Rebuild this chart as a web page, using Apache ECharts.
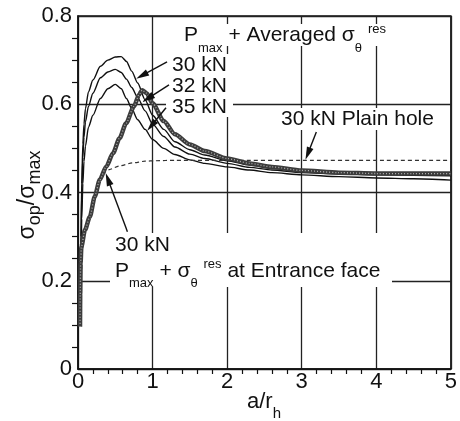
<!DOCTYPE html>
<html><head><meta charset="utf-8">
<script src="https://cdn.jsdelivr.net/npm/echarts@6/dist/echarts.min.js"></script>
<style>html,body{margin:0;padding:0;background:#fff}#c{width:460px;height:421px}</style>
</head><body><div id="c"></div>
<script>
// ---- data ----
const xSolid = [0.03, 0.04, 0.05, 0.065, 0.08, 0.1, 0.14, 0.2, 0.3, 0.4, 0.5, 0.58, 0.65, 0.72, 0.8, 0.9, 1.0, 1.15, 1.3, 1.5, 1.7, 2.0, 2.3, 2.6, 3.0, 3.5, 4.0, 4.5, 5.0];
const avg30 = [0.10, 0.30, 0.42, 0.51, 0.555, 0.59, 0.628, 0.655, 0.686, 0.700, 0.707, 0.708, 0.697, 0.675, 0.648, 0.61, 0.575, 0.543, 0.515, 0.497, 0.485, 0.472, 0.462, 0.455, 0.449, 0.446, 0.445, 0.445, 0.445];
const avg32 = [0.10, 0.28, 0.40, 0.48, 0.525, 0.56, 0.595, 0.625, 0.66, 0.673, 0.679, 0.672, 0.657, 0.638, 0.615, 0.585, 0.555, 0.527, 0.503, 0.487, 0.477, 0.466, 0.457, 0.451, 0.445, 0.442, 0.44, 0.439, 0.438];
const avg35 = [0.10, 0.24, 0.34, 0.42, 0.47, 0.505, 0.548, 0.575, 0.613, 0.635, 0.645, 0.635, 0.613, 0.59, 0.565, 0.543, 0.52, 0.50, 0.486, 0.474, 0.466, 0.458, 0.451, 0.445, 0.44, 0.436, 0.433, 0.431, 0.428];

const xEntrance = [0.027, 0.03, 0.035, 0.045, 0.093, 0.159, 0.225, 0.292, 0.38, 0.469, 0.557, 0.645, 0.75, 0.82, 0.86, 0.92, 1.0, 1.15, 1.3, 1.5, 1.7, 2.0, 2.3, 2.6, 3.0, 3.5, 4.0, 4.5, 5.0];
const entrance30 = [0.096, 0.17, 0.24, 0.277, 0.315, 0.345, 0.391, 0.429, 0.459, 0.489, 0.523, 0.557, 0.595, 0.622, 0.632, 0.625, 0.602, 0.562, 0.532, 0.509, 0.494, 0.477, 0.466, 0.458, 0.450, 0.445, 0.443, 0.443, 0.443];

const xPlain = [0.03, 0.04, 0.06, 0.093, 0.16, 0.225, 0.29, 0.36, 0.42, 0.55, 0.73, 0.9, 1.04, 1.3, 2.0, 3.0, 4.0, 5.0];
const plain30 = [0.10, 0.20, 0.27, 0.315, 0.345, 0.39, 0.425, 0.446, 0.452, 0.46, 0.467, 0.471, 0.472, 0.473, 0.473, 0.473, 0.473, 0.473];

// arrows: [fromX, fromY, toX, toY] in data units
const arrows = [
  [1.194, 0.696, 0.78, 0.658],
  [1.22, 0.644, 0.862, 0.605],
  [1.18, 0.592, 0.928, 0.540],
  [3.196, 0.537, 3.05, 0.474],
  [0.663, 0.311, 0.371, 0.444]
];

const xTicks = [0, 1, 2, 3, 4, 5];
const yTicks = [0, 0.2, 0.4, 0.6, 0.8];

const zip = (xs, ys) => xs.map((x, i) => [x, ys[i]]);
const FONT = '"Liberation Sans", Arial, Helvetica, sans-serif';

const chart = echarts.init(document.getElementById('c'), null, {renderer: 'canvas'});

const richAnn = {
  sub: {fontSize: 13, fontFamily: FONT, fill: '#111', color: '#111', verticalAlign: 'bottom'},
  sup: {fontSize: 13, fontFamily: FONT, fill: '#111', color: '#111', verticalAlign: 'top', padding: [6, 0, 0, 0]}
};

function txt(x, y, text, extra) {
  return Object.assign({
    type: 'text', x: x, y: y, z: 5, silent: true,
    style: {
      text: text, fill: '#111', fontSize: 21, fontFamily: FONT,
      align: 'left', verticalAlign: 'middle', lineHeight: 38, rich: richAnn
    }
  }, extra || {});
}
function mask(x, y, w, h) {
  return {type: 'rect', z: 1, silent: true, shape: {x: x, y: y, width: w, height: h}, style: {fill: '#fff'}};
}

const lineBase = {type: 'line', showSymbol: false, smooth: 0.25, smoothMonotone: 'x', silent: true, z: 3};

chart.setOption({
  animation: false,
  backgroundColor: '#fff',
  grid: {left: 78, right: 5, top: 16, bottom: 52, show: true, borderColor: '#111', borderWidth: 1.5, backgroundColor: 'transparent'},
  xAxis: {
    type: 'value', min: xTicks[0], max: xTicks[xTicks.length - 1], interval: 1,
    axisLine: {show: true, lineStyle: {color: '#111', width: 1.5}},
    axisTick: {show: false},
    minorTick: {show: true, splitNumber: 5, length: 5, lineStyle: {color: '#111', width: 1.2}},
    axisLabel: {color: '#111', fontSize: 22, fontFamily: FONT, margin: 2},
    splitLine: {show: true, lineStyle: {color: '#222', width: 1.3}}
  },
  yAxis: {
    type: 'value', min: yTicks[0], max: yTicks[yTicks.length - 1], interval: 0.2,
    axisLine: {show: true, lineStyle: {color: '#111', width: 1.5}},
    axisTick: {show: false},
    minorTick: {show: true, splitNumber: 4, length: 6, lineStyle: {color: '#111', width: 1.2}},
    axisLabel: {color: '#111', fontSize: 22, fontFamily: FONT, margin: 6,
      formatter: v => (v === 0 ? '0' : v.toFixed(1))},
    splitLine: {show: true, lineStyle: {color: '#222', width: 1.3}}
  },
  series: [
    Object.assign({}, lineBase, {name: 'avg30', data: zip(xSolid, avg30), lineStyle: {color: '#111', width: 1.4}}),
    Object.assign({}, lineBase, {name: 'avg32', data: zip(xSolid, avg32), lineStyle: {color: '#111', width: 1.4}}),
    Object.assign({}, lineBase, {name: 'avg35', data: zip(xSolid, avg35), lineStyle: {color: '#111', width: 1.4}}),
    Object.assign({}, lineBase, {name: 'plain30', data: zip(xPlain, plain30), lineStyle: {color: '#333', width: 1.2, type: [4, 3]}}),
    Object.assign({}, lineBase, {name: 'entrance30', data: zip(xEntrance, entrance30), lineStyle: {color: '#3c3c3c', width: 4.5}}),
    Object.assign({}, lineBase, {name: 'entrance30tex', data: zip(xEntrance, entrance30), z: 4, lineStyle: {color: '#b0b0b0', width: 1.3, type: [1, 2]}}),
    {
      type: 'custom', name: 'arrows', silent: true, z: 6, clip: false,
      data: arrows,
      renderItem: function (params, api) {
        const p1 = api.coord([api.value(0), api.value(1)]);
        const p2 = api.coord([api.value(2), api.value(3)]);
        const dx = p2[0] - p1[0], dy = p2[1] - p1[1];
        const L = Math.hypot(dx, dy) || 1;
        const ux = dx / L, uy = dy / L;
        const hl = 13, hw = 3.5;
        const bx = p2[0] - ux * hl, by = p2[1] - uy * hl;
        return {type: 'group', children: [
          {type: 'line', shape: {x1: p1[0], y1: p1[1], x2: bx + ux * 2, y2: by + uy * 2}, style: {stroke: '#111', lineWidth: 1.4}},
          {type: 'polygon', shape: {points: [[p2[0], p2[1]], [bx - uy * hw, by + ux * hw], [bx + uy * hw, by - ux * hw]]}, style: {fill: '#111'}}
        ]};
      }
    }
  ],
  graphic: {elements: [
    mask(180, 24, 215, 22),
    mask(166, 54, 67, 63),
    mask(275, 108, 170, 22),
    mask(110, 233, 282, 54),
    txt(184, 35.5, 'P{sub|max} + Averaged σ{sub|θ} {sup|res}'),
    txt(172, 65.5, '30 kN'),
    txt(172, 86.5, '32 kN'),
    txt(172, 107.5, '35 kN'),
    txt(281, 119, '30 kN Plain hole'),
    txt(115, 245.5, '30 kN'),
    txt(115, 271, 'P{sub|max} + σ{sub|θ} {sup|res} at Entrance face'),
    {
      type: 'text', x: 247, y: 402, z: 5, silent: true,
      style: {text: 'a/r{s|h}', fill: '#111', fontSize: 22, fontFamily: FONT, align: 'left', verticalAlign: 'middle', lineHeight: 38,
        rich: {s: {fontSize: 15, fontFamily: FONT, fill: '#111', verticalAlign: 'bottom'}}}
    },
    {
      type: 'text', x: 28, y: 195, rotation: Math.PI / 2, z: 5, silent: true,
      style: {text: 'σ{s|op}/σ{s|max}', fill: '#111', fontSize: 23, fontFamily: FONT, align: 'center', verticalAlign: 'middle', lineHeight: 32,
        rich: {s: {fontSize: 18, fontFamily: FONT, fill: '#111', verticalAlign: 'bottom'}}}
    }
  ]}
});
</script>
</body></html>
